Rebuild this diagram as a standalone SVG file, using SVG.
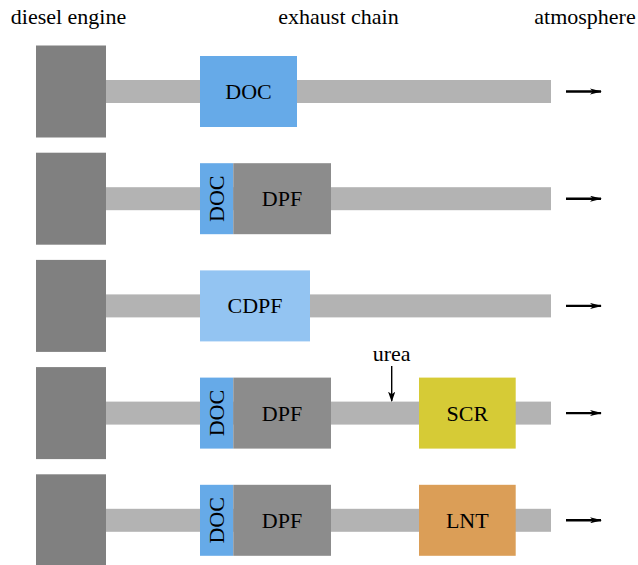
<svg xmlns="http://www.w3.org/2000/svg" width="638" height="565" viewBox="0 0 638 565">
  <style>
    text { font-family: "Liberation Serif", "DejaVu Serif", serif; font-size: 22px; fill: #000; }
    .engine { fill: #808080; }
    .pipe { fill: #b3b3b3; }
    .doc { fill: #66aae8; }
    .dpf { fill: #8c8c8c; }
    .cdpf { fill: #93c4f2; }
    .scr { fill: #d6cb36; }
    .lnt { fill: #db9e57; }
    .arrow { stroke: #000; stroke-width: 2.4; fill: none; }
    .thin { stroke: #000; stroke-width: 1.4; fill: none; }
  </style>
  <defs>
    <marker id="head" viewBox="0 0 12 6" refX="11" refY="3" markerWidth="5" markerHeight="2.6" markerUnits="strokeWidth" orient="auto">
      <path d="M0,0 L12,3 L0,6 L3,3 Z" fill="#000"/>
    </marker>
    <marker id="headThin" viewBox="0 0 10 7" refX="9" refY="3.5" markerWidth="7.5" markerHeight="5.2" markerUnits="strokeWidth" orient="auto">
      <path d="M0,0 L10,3.5 L0,7 L2.5,3.5 Z" fill="#000"/>
    </marker>
  </defs>

  <!-- column headings -->
  <g id="headings" text-anchor="middle">
    <text x="68.5" y="24">diesel engine</text>
    <text x="338.5" y="24">exhaust chain</text>
    <text x="585" y="24">atmosphere</text>
  </g>

  <!-- exhaust pipes and outlet arrows -->
  <g id="connectors">
    <rect class="pipe" x="106" y="80" width="445" height="23"/>
    <rect class="pipe" x="106" y="187.2" width="445" height="23"/>
    <rect class="pipe" x="106" y="294.4" width="445" height="23"/>
    <rect class="pipe" x="106" y="401.6" width="445" height="23"/>
    <rect class="pipe" x="106" y="508.8" width="445" height="23"/>
    <line class="arrow" x1="566" y1="91.5" x2="601" y2="91.5" marker-end="url(#head)"/>
    <line class="arrow" x1="566" y1="198.7" x2="601" y2="198.7" marker-end="url(#head)"/>
    <line class="arrow" x1="566" y1="305.9" x2="601" y2="305.9" marker-end="url(#head)"/>
    <line class="arrow" x1="566" y1="413.1" x2="601" y2="413.1" marker-end="url(#head)"/>
    <line class="arrow" x1="566" y1="520.3" x2="601" y2="520.3" marker-end="url(#head)"/>
    <line class="thin" x1="391.7" y1="366" x2="391.7" y2="401" marker-end="url(#headThin)"/>
  </g>

  <!-- engines -->
  <g id="engine1"><rect class="engine" x="36" y="45.5" width="70" height="92"/></g>
  <g id="engine2"><rect class="engine" x="36" y="152.7" width="70" height="92"/></g>
  <g id="engine3"><rect class="engine" x="36" y="259.9" width="70" height="92"/></g>
  <g id="engine4"><rect class="engine" x="36" y="367.1" width="70" height="92"/></g>
  <g id="engine5"><rect class="engine" x="36" y="474.3" width="70" height="92"/></g>

  <!-- row 1: DOC -->
  <g id="doc1">
    <rect class="doc" x="200" y="56" width="97" height="71"/>
    <text x="248.5" y="99" text-anchor="middle">DOC</text>
  </g>

  <!-- row 2: DOC + DPF -->
  <g id="doc2">
    <rect class="doc" x="200" y="163.2" width="33.3" height="71"/>
    <text transform="translate(224.3 198.7) rotate(-90)" text-anchor="middle">DOC</text>
  </g>
  <g id="dpf2">
    <rect class="dpf" x="233.3" y="163.2" width="97.7" height="71"/>
    <text x="282" y="206.2" text-anchor="middle">DPF</text>
  </g>

  <!-- row 3: CDPF -->
  <g id="cdpf3">
    <rect class="cdpf" x="200" y="270.4" width="110" height="71"/>
    <text x="255" y="313.4" text-anchor="middle">CDPF</text>
  </g>

  <!-- row 4: DOC + DPF + urea dosing + SCR -->
  <g id="doc4">
    <rect class="doc" x="200" y="377.6" width="33.3" height="71"/>
    <text transform="translate(224.3 413.1) rotate(-90)" text-anchor="middle">DOC</text>
  </g>
  <g id="dpf4">
    <rect class="dpf" x="233.3" y="377.6" width="97.7" height="71"/>
    <text x="282" y="420.6" text-anchor="middle">DPF</text>
  </g>
  <g id="urea">
    <text x="391.7" y="361" text-anchor="middle">urea</text>
  </g>
  <g id="scr4">
    <rect class="scr" x="419" y="377.6" width="96.7" height="71"/>
    <text x="467.3" y="420.6" text-anchor="middle">SCR</text>
  </g>

  <!-- row 5: DOC + DPF + LNT -->
  <g id="doc5">
    <rect class="doc" x="200" y="484.8" width="33.3" height="71"/>
    <text transform="translate(224.3 520.3) rotate(-90)" text-anchor="middle">DOC</text>
  </g>
  <g id="dpf5">
    <rect class="dpf" x="233.3" y="484.8" width="97.7" height="71"/>
    <text x="282" y="527.8" text-anchor="middle">DPF</text>
  </g>
  <g id="lnt5">
    <rect class="lnt" x="419" y="484.8" width="96.7" height="71"/>
    <text x="467.3" y="527.8" text-anchor="middle">LNT</text>
  </g>
</svg>
